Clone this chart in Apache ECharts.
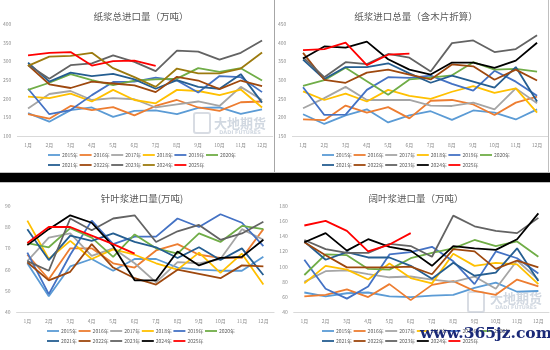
<!DOCTYPE html>
<html><head><meta charset="utf-8">
<script src="https://cdn.jsdelivr.net/npm/echarts@6/dist/echarts.min.js"></script>
<style>html,body{margin:0;padding:0;background:#fff}#c{width:550px;height:350px}</style>
</head><body><div id="c"></div>
<script>
const months = ['1月','2月','3月','4月','5月','6月','7月','8月','9月','10月','11月','12月'];
const years = ['2015年','2016年','2017年','2018年','2019年','2020年','2021年','2022年','2023年','2024年','2025年'];

// 纸浆总进口量（万吨）
const totalImport = [
  [162,139,170,177,152,168,169,159,176,177,160,172],
  [159,147,181,170,178,156,181,197,177,168,191,193],
  [174,213,221,197,202,199,177,185,193,181,232,197],
  [206,202,214,193,224,197,188,224,221,210,225,177],
  [227,159,170,210,245,246,257,249,217,261,258,218],
  [224,243,266,250,237,249,252,254,282,272,282,249],
  [297,246,270,261,267,252,227,250,232,227,266,190],
  [290,239,229,246,241,236,218,259,249,226,249,234],
  [291,254,290,295,316,299,274,329,326,305,323,356],
  [288,313,315,323,282,258,232,281,268,268,281,324],
  [316,323,325,289,301,302,288]
];
// 纸浆进口总量（含木片折算）
const totalWithChips = [
  [209,183,206,222,187,206,217,194,219,213,195,222],
  [195,193,232,213,228,198,245,247,235,207,240,256],
  [225,252,282,247,247,247,232,231,240,222,278,238],
  [270,247,264,243,274,258,250,269,284,266,278,213],
  [281,207,208,274,308,306,312,290,272,325,296,258],
  [285,300,333,297,261,302,307,313,348,328,330,323],
  [355,303,335,335,345,318,293,312,296,280,335,243],
  [373,301,293,320,328,315,302,342,337,301,328,299],
  [361,308,348,343,370,360,323,399,406,375,383,420],
  [358,390,387,403,356,328,315,347,347,333,352,400],
  [380,383,400,340,368,371]
];
// 针叶浆进口量(万吨)
const softwood = [
  [63,47.5,61.5,65,59.5,65,65,61,60,59.5,59.5,66],
  [67,55.5,70,70,63,61,69,72,67,65.5,65.5,79],
  [64,75,77,66.5,70,63,54,63.5,63,65,79,74],
  [83,65,73.5,65,69.5,67,63,60,68,58.5,67.5,53],
  [68,48.5,67,83,72,75.5,75.5,84,80,86,82,71],
  [72.5,70.5,79.5,75,66,76.5,70,67.5,77,73,80.5,79],
  [79,64.5,76,73.5,77,73,70.5,65.5,70.5,64.5,70,57.5],
  [63.5,55,59,72,61,56,53,60,58,56,62,61.5],
  [64,59.5,84,78.5,84,85.5,73,78,81,74,77,82.5],
  [71.5,79,85.5,82,71,55,55,68.5,62,65.5,66,74],
  [72.5,80,80,76,72,67.5]
];
// 阔叶浆进口量（万吨）
const hardwood = [
  [66,61,65,66,61,60,62,63,72,79,67,68],
  [61,63,70,60,77,56,76,81,68,63,83,74],
  [80,94,95,90,86,87,83,80,87,71,108,83],
  [78,101,96,83,104,85,78,117,101,105,103,77],
  [109,71,58,74,116,119,126,107,77,120,111,91],
  [89,116,115,97,96,111,118,124,135,127,133,113],
  [133,109,119,112,112,101,84,105,88,92,124,81],
  [132,115,99,99,99,100,90,123,120,97,108,99],
  [135,123,118,118,130,127,113,167,153,147,144,164],
  [132,144,121,136,126,121,101,127,124,122,136,170],
  [154,160,147,120,129,144]
];

const baseColors = ['#5B9BD5','#ED7D31','#A5A5A5','#FFC000','#4472C4','#70AD47','#255E91','#9E480E','#636363','#000000','#FF0000'];
const colorsTL = baseColors.slice(); colorsTL[9] = '#9C7A0E';

const panels = [
  {title:'纸浆总进口量（万吨）', data: totalImport, colors: colorsTL, min:100, max:400, interval:50,
   grid:{left:17.4, top:24, width:255.3, height:112.3}, tx:136, ty:11, leg:[48,155,165]},
  {title:'纸浆进口总量（含木片折算）', data: totalWithChips, colors: baseColors, min:150, max:450, interval:50,
   grid:{left:292.4, top:24, width:255.3, height:112.3}, tx:411, ty:11, leg:[322,155,165]},
  {title:'针叶浆进口量(万吨)', data: softwood, colors: baseColors, min:40, max:90, interval:10,
   grid:{left:16.6, top:205.7, width:257.5, height:106.6}, tx:137, ty:193, leg:[47,331,341]},
  {title:'阔叶浆进口量（万吨）', data: hardwood, colors: baseColors, min:40, max:180, interval:20,
   grid:{left:293.7, top:205.7, width:255.3, height:106.6}, tx:411, ty:193, leg:[322,331,341]}
];

const option = {animation:false, backgroundColor:'#fff', title:[], grid:[], xAxis:[], yAxis:[], series:[], legend:[], graphic:[]};
const FONT = '"Noto Sans CJK SC", sans-serif';
panels.forEach((p, i) => {
  option.title.push({text:p.title, left:p.tx, top:p.ty, textAlign:'center', textVerticalAlign:'middle',
    textStyle:{fontSize:9.5, fontWeight:'normal', color:'#595959', fontFamily:FONT}});
  option.grid.push(Object.assign({containLabel:false}, p.grid));
  option.xAxis.push({type:'category', gridIndex:i, data:months, boundaryGap:true,
    axisLine:{lineStyle:{color:'#d9d9d9', width:1}}, axisTick:{show:false},
    axisLabel:{fontSize:5, color:'#8c8c8c', margin:6, fontFamily:FONT}});
  option.yAxis.push({type:'value', gridIndex:i, min:p.min, max:p.max, interval:p.interval,
    splitLine:{show:false}, axisLine:{show:false}, axisTick:{show:false},
    axisLabel:{fontSize:5, color:'#8c8c8c', margin:6, fontFamily:FONT}});
  const names = [];
  p.data.forEach((arr, k) => {
    const nm = years[k] + '#' + i;
    names.push(nm);
    option.series.push({type:'line', name:nm, xAxisIndex:i, yAxisIndex:i, data:arr,
      showSymbol:false, symbol:'none', smooth:false, color:p.colors[k],
      lineStyle:{width:1.8, color:p.colors[k]}, z: k});
  });
  [names.slice(0,6), names.slice(6)].forEach((row, r) => {
    option.legend.push({data:row, left:p.leg[0], top:p.leg[1+r]-3.5, padding:0,
      icon:'rect', itemWidth:12, itemHeight:1.8, itemGap:1.5,
      formatter:(n)=>n.split('#')[0],
      textStyle:{fontSize:5, color:'#595959', fontFamily:FONT, lineHeight:7, padding:[0,0,0,-3]}});
  });
});

option.graphic = [
  {type:'line', shape:{x1:274.5,y1:0,x2:274.5,y2:172}, style:{stroke:'#a6a6a6', lineWidth:1}, z:100},
  {type:'line', shape:{x1:548.5,y1:0,x2:548.5,y2:172}, style:{stroke:'#bfbfbf', lineWidth:1}, z:100},
  {type:'line', shape:{x1:0,y1:172.5,x2:550,y2:172.5}, style:{stroke:'#bfbfbf', lineWidth:1}, z:100},
  {type:'rect', shape:{x:0,y:173,width:550,height:9}, style:{fill:'#000'}, z:100},
  {type:'line', shape:{x1:0,y1:182.5,x2:550,y2:182.5}, style:{stroke:'#bfbfbf', lineWidth:1}, z:100},
  {type:'rect', shape:{x:194,y:113,width:16,height:20,r:2}, style:{fill:'none', stroke:'rgba(200,205,215,0.7)', lineWidth:2}, z:1},
  {type:'text', x:240, y:123, style:{text:'大地期货', fill:'rgba(190,200,212,0.7)', font:'bold 13px "Noto Sans CJK SC"', textAlign:'center', textVerticalAlign:'middle'}, z:1},
  {type:'text', x:240, y:132.5, style:{text:'DADI FUTURES', fill:'rgba(190,200,212,0.7)', font:'bold 5px "DejaVu Sans"', textAlign:'center', textVerticalAlign:'middle'}, z:1},
  {type:'rect', shape:{x:468,y:292,width:16,height:20,r:2}, style:{fill:'none', stroke:'rgba(200,205,215,0.7)', lineWidth:2}, z:1},
  {type:'text', x:516, y:298, style:{text:'大地期货', fill:'rgba(190,200,212,0.7)', font:'bold 13px "Noto Sans CJK SC"', textAlign:'center', textVerticalAlign:'middle'}, z:1},
  {type:'text', x:516, y:307.5, style:{text:'DADI FUTURES', fill:'rgba(190,200,212,0.7)', font:'bold 5px "DejaVu Sans"', textAlign:'center', textVerticalAlign:'middle'}, z:1},
  {type:'text', x:486, y:334, style:{text:'www.365jz.com', fill:'#1b2a78', font:'bold 15.5px "DejaVu Serif"', textAlign:'center', textVerticalAlign:'middle'}, z:200}
];

const chart = echarts.init(document.getElementById('c'), null, {renderer:'canvas'});
chart.setOption(option);
</script></body></html>
